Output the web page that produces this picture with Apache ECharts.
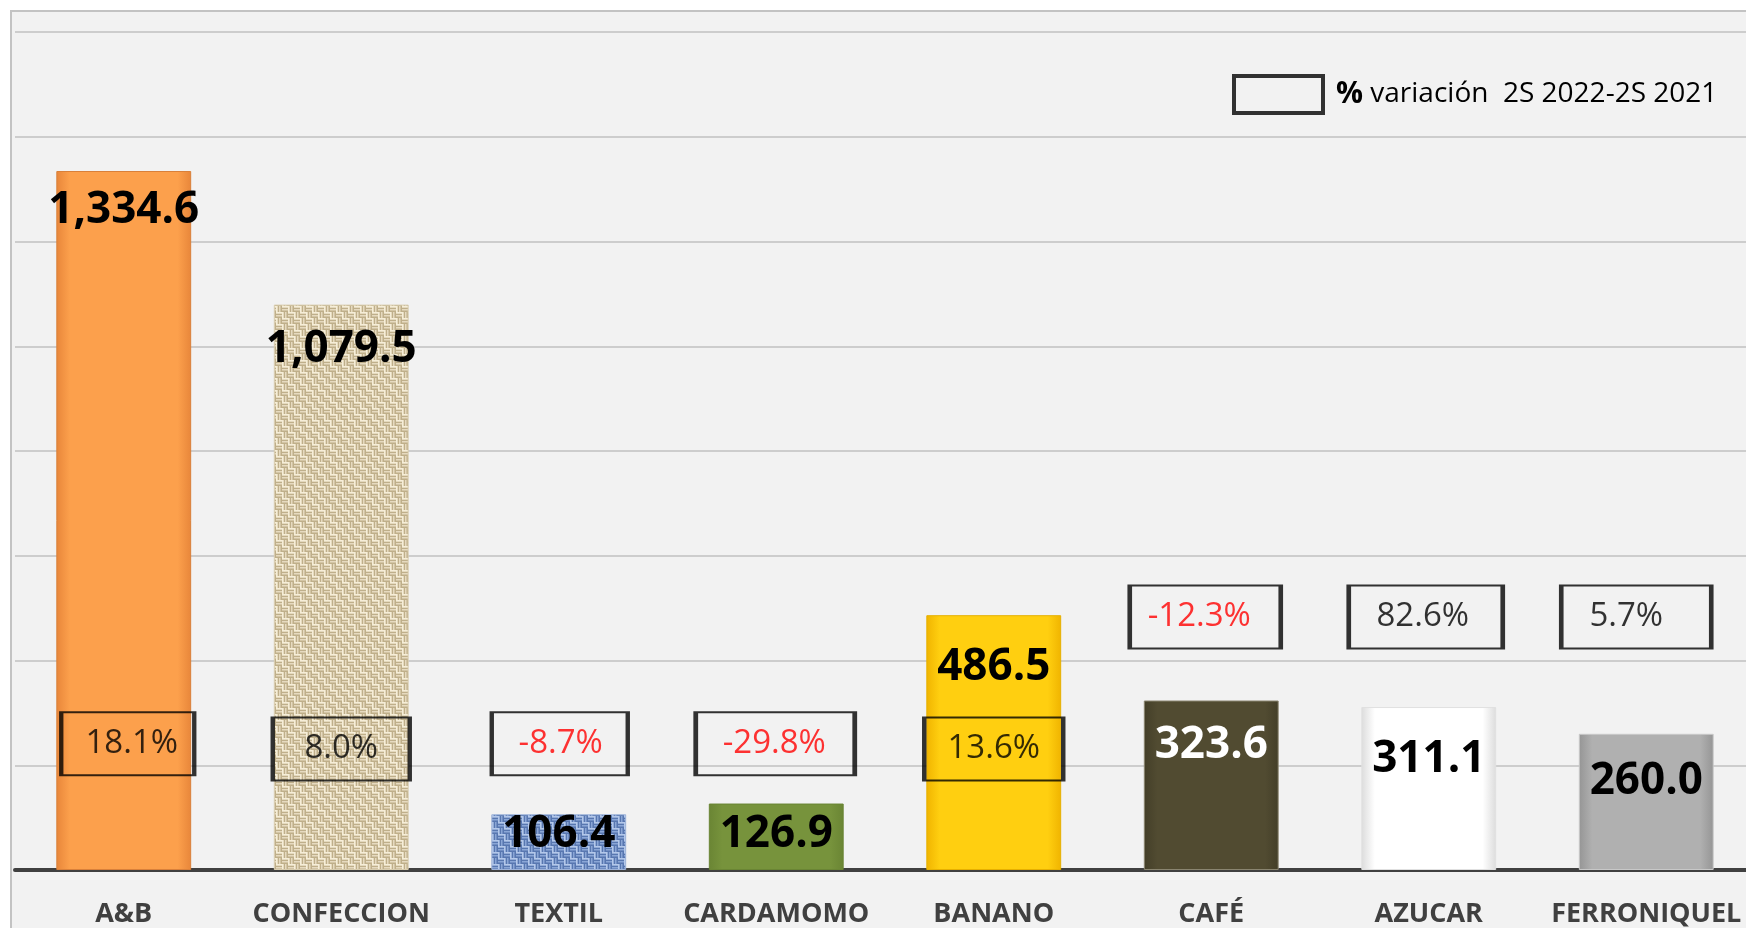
<!DOCTYPE html>
<html>
<head>
<meta charset="utf-8">
<script src="https://cdn.jsdelivr.net/npm/echarts@6/dist/echarts.min.js"></script>
<style>
  html, body { margin: 0; padding: 0; background: #fff; overflow: hidden; }
  /* the original picture is cropped on the right, so the canvas runs past the window */
  #chart { width: 1762px; height: 928px; }
</style>
</head>
<body>
<div id="chart"></div>
<script>
// data
const categories = ['A&B', 'CONFECCION', 'TEXTIL', 'CARDAMOMO', 'BANANO', 'CAFÉ', 'AZUCAR', 'FERRONIQUEL'];
const exportValues = [1334.6, 1079.5, 106.4, 126.9, 486.5, 323.6, 311.1, 260.0];
const variationPct = [18.1, 8.0, -8.7, -29.8, 13.6, -12.3, 82.6, 5.7];
const legendName = '% variación  2S 2022-2S 2021';

// layout of the annotation boxes / labels (not data)
const boxLevel = [241, 231, 241, 241, 231, 483, 483, 483];   // y anchor, axis units
const boxWidth = [133, 137, 136, 159, 139, 151, 154, 150];
const boxShiftX = [4, 0, 1, -1, 0, -6, -3, -10];
const labelDy = [39, 45, 20, 31, 52, 45, 52, 48];            // label centre below bar top
const labelColor = ['#000', '#000', '#000', '#000', '#000', '#fff', '#000', '#000'];

// small woven tiles for the textured bars
function weaveTile(base, dark, light) {
  const s = 1.5;
  const c = document.createElement('canvas');
  c.width = 8 * s; c.height = 8 * s;
  const g = c.getContext('2d');
  g.scale(s, s);
  g.fillStyle = base; g.fillRect(0, 0, 8, 8);
  g.fillStyle = dark;
  g.fillRect(0, 1, 4, 1); g.fillRect(0, 3, 4, 1);
  g.fillRect(5, 0, 1, 4); g.fillRect(7, 0, 1, 4);
  g.fillRect(1, 4, 1, 4); g.fillRect(3, 4, 1, 4);
  g.fillRect(4, 5, 4, 1); g.fillRect(4, 7, 4, 1);
  g.fillStyle = light;
  g.fillRect(0, 0, 4, 1); g.fillRect(4, 0, 1, 4);
  g.fillRect(0, 4, 1, 4); g.fillRect(4, 4, 4, 1);
  return { image: c, repeat: 'repeat' };
}

function bevel(edge, mid) {
  return new echarts.graphic.LinearGradient(0, 0, 1, 0, [
    { offset: 0, color: edge },
    { offset: 0.1, color: mid },
    { offset: 0.9, color: mid },
    { offset: 1, color: edge }
  ]);
}

const barFills = [
  bevel('#E8863A', '#FCA04C'),
  weaveTile('#E6DAC0', '#BFAF8A', '#F6EED8'),
  weaveTile('#8AA6D6', '#5877B0', '#B4C8EA'),
  bevel('#6A8534', '#77933C'),
  bevel('#F0B400', '#FFCF10'),
  bevel('#433E28', '#514B31'),
  bevel('#DCDCDC', '#FFFFFF'),
  bevel('#959595', '#B0B0B0')
];
const barBorders = ['#D9803A', '#D8CCAE', '#9FB4DA', '#6A8534', '#E6B000', '#8A8570', '#E0E0E0', '#C8C8C8'];

const fmtVal = v => v.toLocaleString('en-US', { minimumFractionDigits: 1, maximumFractionDigits: 1 });
const fmtPct = v => v.toFixed(1) + '%';

const chart = echarts.init(document.getElementById('chart'));

const option = {
  backgroundColor: '#ffffff',
  animation: false,
  graphic: [
    {
      type: 'rect',
      z: -100,
      shape: { x: 11, y: 11, width: 1780, height: 940 },
      style: { fill: '#F2F2F2', stroke: '#C3C3C3', lineWidth: 2 }
    }
  ],
  legend: {
    left: 1232,
    top: 74,
    padding: 0,
    itemWidth: 89,
    itemHeight: 37,
    itemStyle: { color: 'transparent', borderColor: '#000', borderWidth: 4 },
    data: [{ name: legendName, icon: 'rect' }],
    formatter: () => '{p|%} variación  2S 2022-2S 2021',
    textStyle: {
      fontFamily: 'Open Sans',
      fontSize: 28,
      color: '#000',
      rich: {
        p: { fontFamily: 'Open Sans', fontWeight: 'bold', fontSize: 30, color: '#000', padding: [0, 0, 0, 8] }
      }
    }
  },
  grid: {
    left: 15,
    width: 1740,
    top: 32,
    bottom: 55.5,
    containLabel: false
  },
  xAxis: {
    type: 'category',
    data: categories,
    axisLine: { lineStyle: { color: '#404040', width: 4 } },
    axisTick: { show: false },
    axisLabel: {
      interval: 0,
      margin: 31,
      color: '#404040',
      fontFamily: 'Open Sans',
      fontWeight: 'bold',
      fontSize: 27
    }
  },
  yAxis: {
    type: 'value',
    min: 0,
    max: 1600,
    interval: 200,
    axisLabel: { show: false },
    axisLine: { show: false },
    axisTick: { show: false },
    splitLine: { lineStyle: { color: '#C0C0C0', width: 1.5 } }
  },
  series: [
    {
      name: 'Exportaciones',
      type: 'bar',
      barCategoryGap: '38%',
      z: 2,
      data: exportValues.map((v, i) => ({
        value: v,
        itemStyle: { color: barFills[i], borderColor: barBorders[i], borderWidth: 1 },
        label: {
          show: true,
          position: ['50%', labelDy[i]],
          align: 'center',
          verticalAlign: 'middle',
          color: labelColor[i],
          fontFamily: 'Open Sans',
          fontWeight: 'bold',
          fontSize: 44,
          formatter: () => fmtVal(v)
        }
      }))
    },
    {
      name: legendName,
      type: 'scatter',
      symbol: 'rect',
      z: 5,
      itemStyle: { color: 'transparent', borderColor: '#000', borderWidth: 3 },
      emphasis: { disabled: true },
      data: variationPct.map((p, i) => ({
        value: [i, boxLevel[i]],
        symbolSize: [boxWidth[i], 63],
        symbolOffset: [boxShiftX[i], 0],
        label: {
          show: true,
          position: 'inside',
          offset: [boxShiftX[i], 0],
          fontFamily: 'Open Sans',
          fontSize: 33,
          color: p < 0 ? '#FF0000' : '#000000',
          formatter: () => fmtPct(p)
        }
      }))
    }
  ]
};

chart.setOption(option);
</script>
</body>
</html>
